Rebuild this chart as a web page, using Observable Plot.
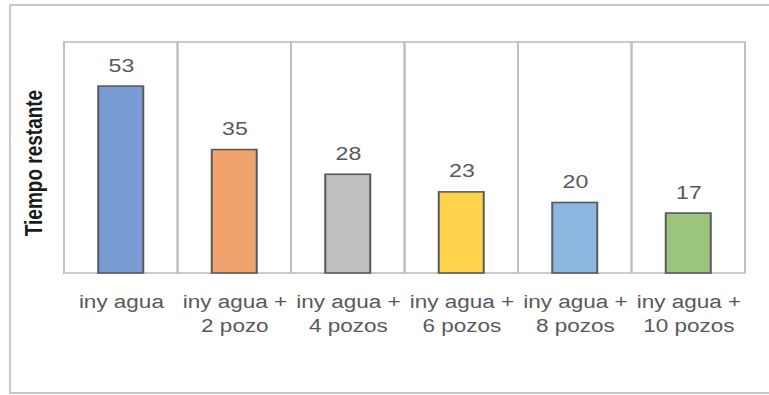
<!DOCTYPE html>
<html>
<head>
<meta charset="utf-8">
<script src="https://cdn.jsdelivr.net/npm/d3@7"></script>
<script src="https://cdn.jsdelivr.net/npm/@observablehq/plot@0.6"></script>
<style>
  html, body { margin: 0; padding: 0; background: #fff; overflow: hidden; }
  #border { position: absolute; left: 9px; top: 4px; width: 800px; height: 390px; border: 2px solid #c8c8c8; box-sizing: border-box; }
  #chart { position: absolute; left: 0; top: 0; width: 769px; height: 395px; }
</style>
</head>
<body>
<div id="border"></div>
<div id="chart"></div>
<script>
// Remaining time per scenario (water injection + extra wells)
const categories = [
  "iny agua",
  "iny agua +\n2 pozo",
  "iny agua +\n4 pozos",
  "iny agua +\n6 pozos",
  "iny agua +\n8 pozos",
  "iny agua +\n10 pozos"
];
const values = [53, 35, 28, 23, 20, 17];
const barColors = ["#7a9cd5", "#f0a36d", "#bfbfbf", "#ffd24c", "#8ab6e0", "#9bc47d"];
const yTitle = "Tiempo restante";

const yMax = 65.5;
const data = categories.map((c, i) => ({cat: c, value: values[i], color: barColors[i]}));

// The chart is laid out narrower, then widened to the page width.
const stretch = 1.25;
const W = 769, H = 395;
const W0 = W / stretch;

const font = "'Liberation Sans', Arial, sans-serif";

const chart = Plot.plot({
  width: W0,
  height: H,
  marginLeft: 51.2,
  marginRight: 19.2,
  marginTop: 42,
  marginBottom: 122,
  x: {type: "band", domain: categories, padding: 0, round: false, axis: null},
  y: {domain: [0, yMax], axis: null},
  color: {type: "identity"},
  style: {fontFamily: font, background: "transparent", overflow: "visible"},
  marks: [
    // category cells (grid between categories and plot frame)
    Plot.barY(categories, {x: d => d, y1: 0, y2: yMax, fill: "none", stroke: "#c0c0c0", strokeWidth: 1.6}),
    Plot.barY(data, {
      x: "cat", y: "value", fill: "color",
      stroke: "#5a5a5a", strokeWidth: 1.6,
      insetLeft: 27.4, insetRight: 27.4
    }),
    Plot.text(data, {
      x: "cat", y: "value", text: d => String(d.value),
      lineAnchor: "bottom", dy: -15, fontSize: 18.5, fill: "#595959"
    }),
    Plot.text(categories, {
      x: d => d, y: 0, text: d => d,
      lineAnchor: "top", dy: 18, fontSize: 18, lineHeight: 1.33, fill: "#595959"
    }),
    Plot.text([yTitle], {
      frameAnchor: "left", textAnchor: "middle", text: d => d, rotate: -90,
      dx: -24, dy: 5, fontSize: 19, fontWeight: "bold", fill: "#1a1a1a"
    })
  ]
});

chart.setAttribute("preserveAspectRatio", "none");
chart.style.width = W + "px";
chart.style.height = H + "px";
chart.style.maxWidth = "none";
document.getElementById("chart").appendChild(chart);
</script>
</body>
</html>
